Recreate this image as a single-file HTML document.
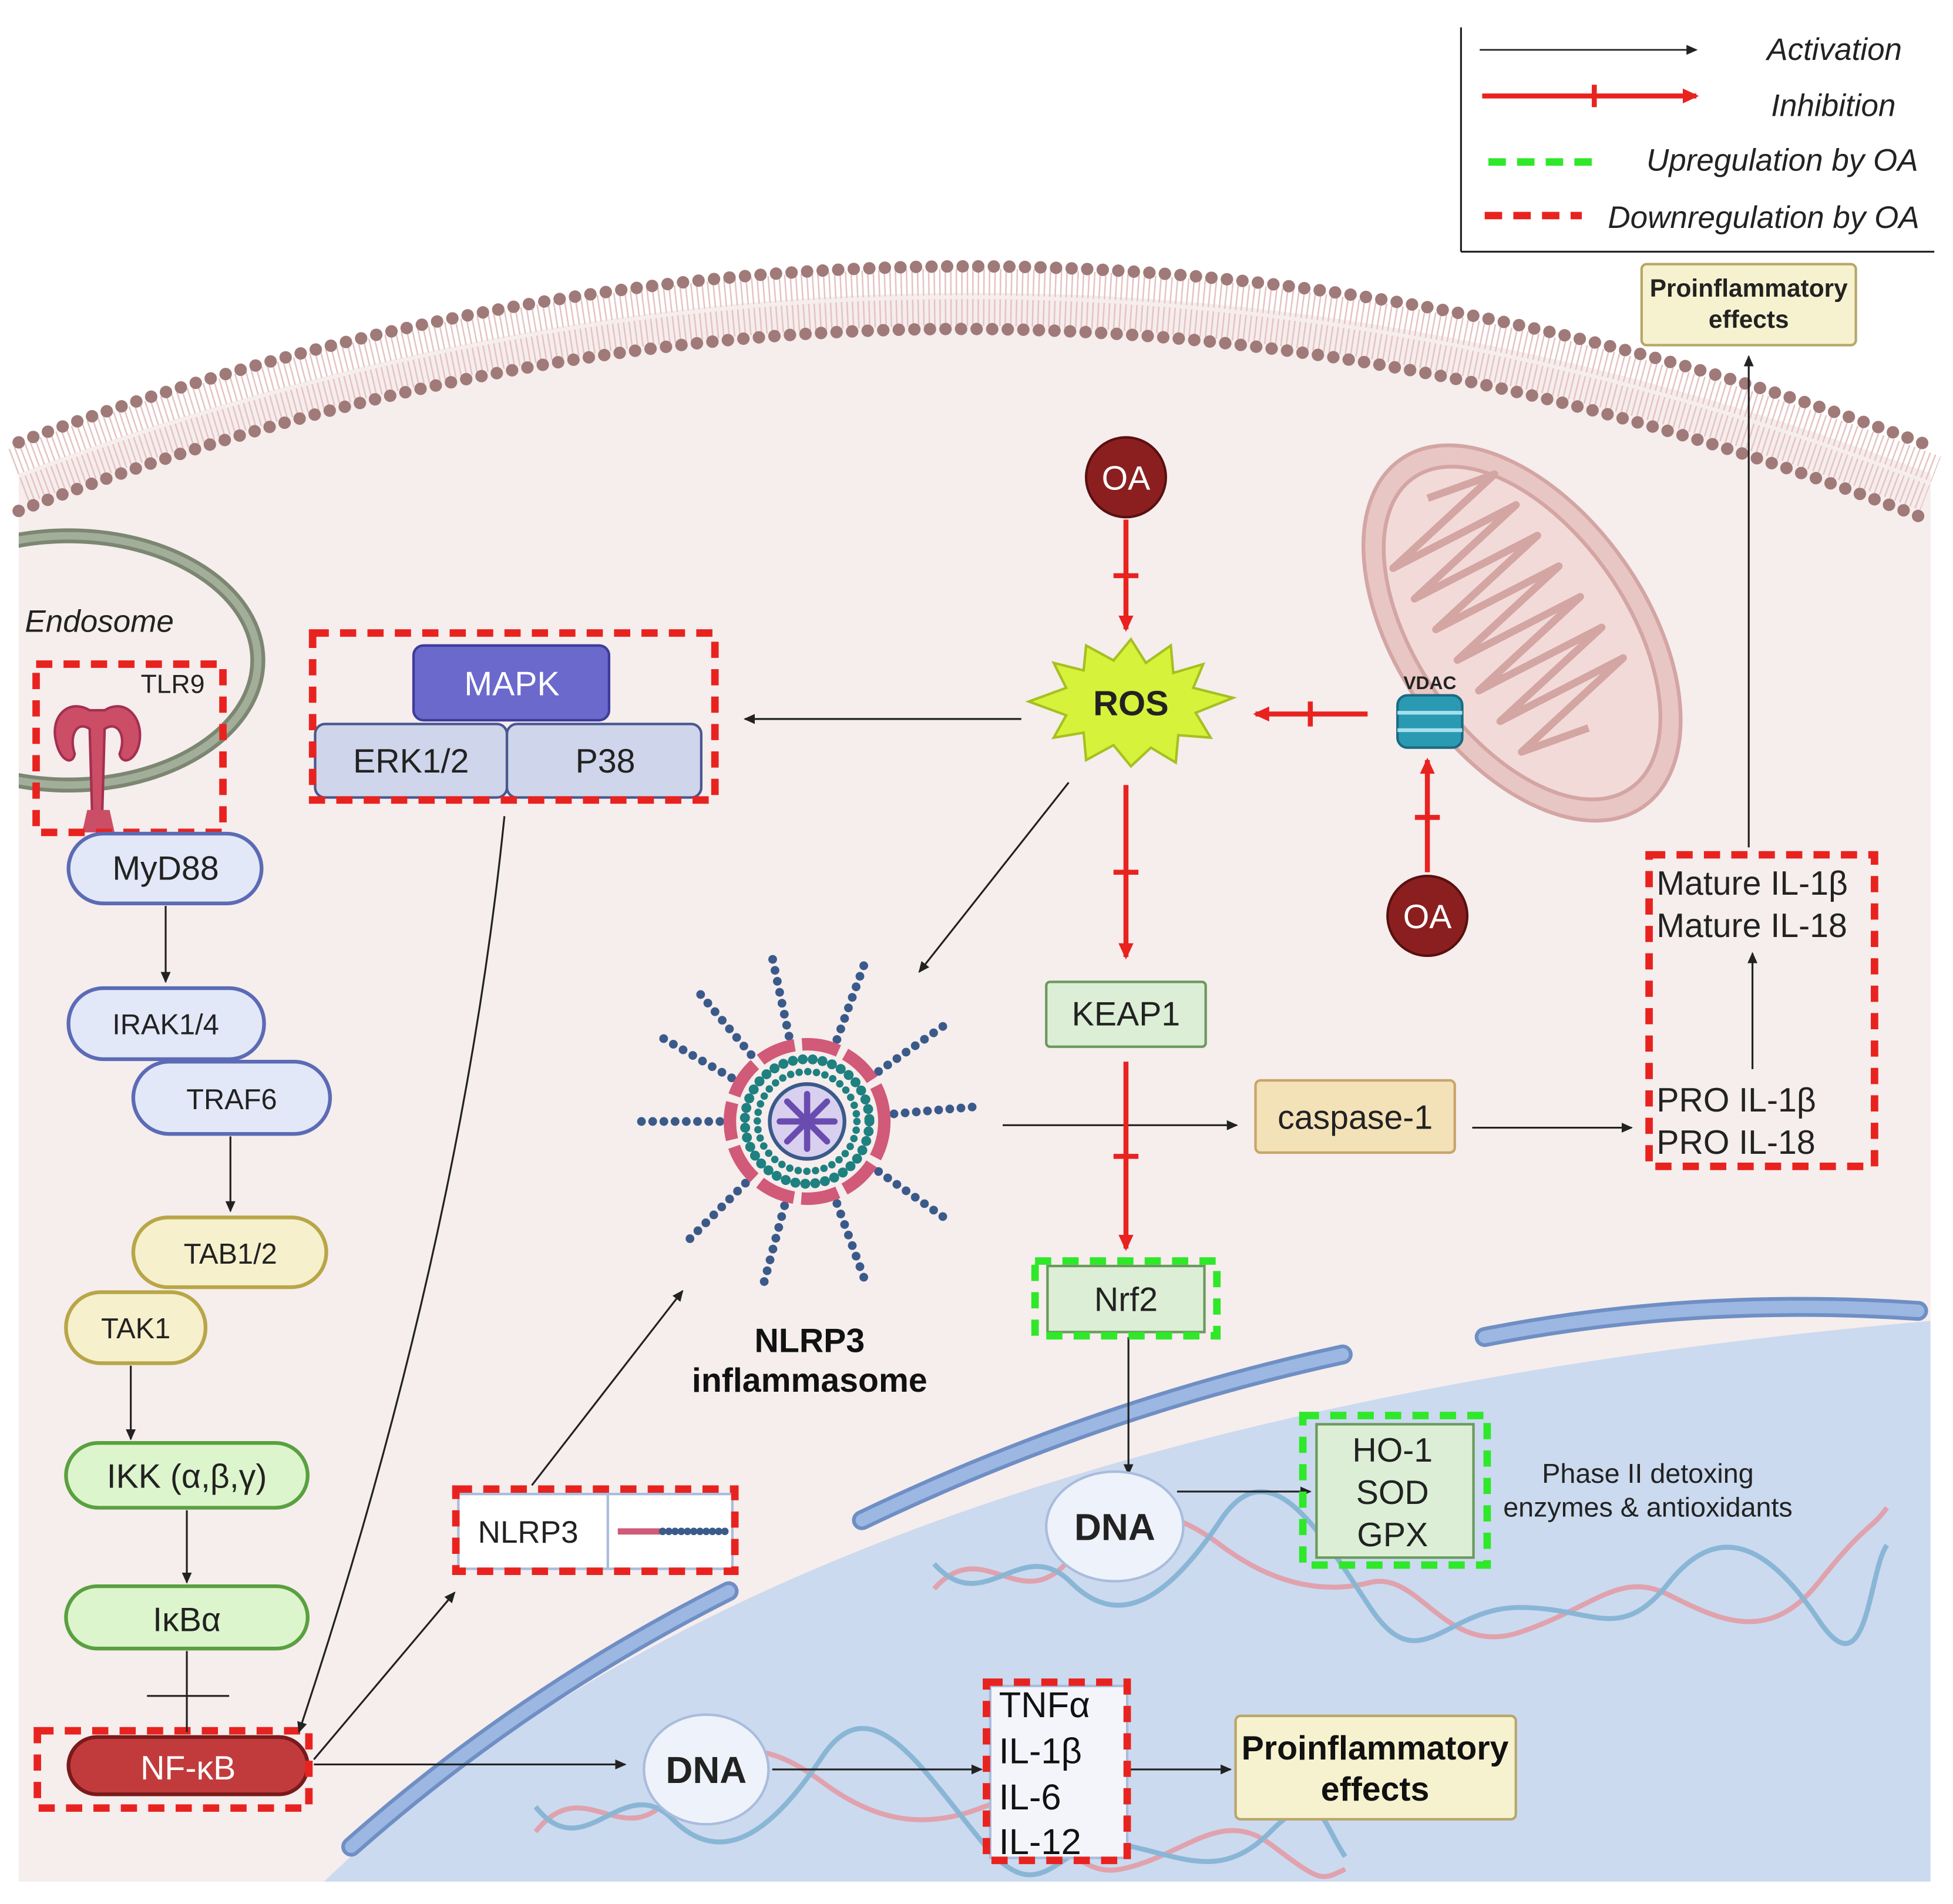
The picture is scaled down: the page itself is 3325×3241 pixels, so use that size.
<!DOCTYPE html>
<html><head><meta charset="utf-8"><style>
html,body{margin:0;padding:0;background:#fff}
svg{display:block}
text{font-family:"Liberation Sans","DejaVu Sans",sans-serif}
</style></head><body>
<svg width="3325" height="3241" viewBox="0 0 1568 1528" preserveAspectRatio="none" xmlns="http://www.w3.org/2000/svg">
<defs>
<marker id="ab" markerWidth="10" markerHeight="10" refX="8" refY="5" orient="auto" markerUnits="userSpaceOnUse"><path d="M0,1 L9,5 L0,9 Z" fill="#222"/></marker>
<marker id="ar" markerWidth="14" markerHeight="14" refX="11" refY="7" orient="auto" markerUnits="userSpaceOnUse"><path d="M0,1 L13,7 L0,13 Z" fill="#e8231f"/></marker>
<clipPath id="cell"><path d="M15,380 Q782,90 1550,380 L1550,1510 L15,1510 Z"/></clipPath>
</defs>
<rect width="1568" height="1528" fill="#fff"/>
<!-- cell -->
<path d="M15,380 Q782,90 1550,380 L1550,1510 L15,1510 Z" fill="#f6eded"/>
<g clip-path="url(#cell)">
<path d="M255,1515 Q640,1140 1550,1060 L1550,1515 Z" fill="#cbdaef"/>
<ellipse cx="55" cy="530" rx="152" ry="100" fill="none" stroke="#7b8771" stroke-width="12"/>
<ellipse cx="55" cy="530" rx="152" ry="100" fill="none" stroke="#a3ae9a" stroke-width="6"/>
</g>
<!-- membrane -->
<path d="M15,382 Q782,92 1550,388" fill="none" stroke="#e6c3c3" stroke-width="46" stroke-dasharray="1.2 3.2"/>
<path d="M15,382 Q782,92 1550,388" fill="none" stroke="#f6eded" stroke-width="3"/>
<path d="M15,355 Q782,71 1550,358" fill="none" stroke="#a07a78" stroke-width="10" stroke-linecap="round" stroke-dasharray="0 12.5"/>
<path d="M15,410 Q782,114 1550,418" fill="none" stroke="#a07a78" stroke-width="10" stroke-linecap="round" stroke-dasharray="0 12.5"/>
<!-- nuclear envelope -->
<g fill="none" stroke-linecap="round">
<path d="M282,1482 Q420,1360 585,1277" stroke="#6f8fc4" stroke-width="16"/>
<path d="M282,1482 Q420,1360 585,1277" stroke="#9bb7e2" stroke-width="10"/>
<path d="M692,1220 Q880,1130 1078,1087" stroke="#6f8fc4" stroke-width="16"/>
<path d="M692,1220 Q880,1130 1078,1087" stroke="#9bb7e2" stroke-width="10"/>
<path d="M1192,1073 Q1360,1040 1540,1052" stroke="#6f8fc4" stroke-width="16"/>
<path d="M1192,1073 Q1360,1040 1540,1052" stroke="#9bb7e2" stroke-width="10"/>
</g>
<!-- DNA helices -->
<g fill="none" stroke-width="4">
<path d="M750,1275 C790,1230 820,1300 860,1250 S940,1210 980,1240 S1060,1280 1100,1270 S1160,1330 1220,1310 S1300,1260 1340,1280 S1420,1320 1460,1270 S1500,1230 1515,1210" stroke="#e0a2ad"/>
<path d="M750,1255 C790,1300 820,1230 860,1270 S940,1280 980,1220 S1060,1230 1100,1290 S1160,1290 1220,1290 S1300,1320 1340,1270 S1420,1240 1460,1300 S1500,1260 1515,1240" stroke="#8ab6d6"/>
<path d="M430,1470 C470,1420 500,1490 540,1440 S620,1400 660,1430 S740,1470 790,1450 S850,1510 900,1500 S980,1450 1020,1480 S1060,1510 1080,1500" stroke="#e0a2ad"/>
<path d="M430,1450 C470,1500 500,1420 540,1460 S620,1470 660,1410 S740,1420 790,1480 S850,1470 900,1480 S980,1510 1020,1470 S1060,1460 1080,1490" stroke="#8ab6d6"/>
</g>
<!-- Legend -->
<g>
<line x1="1173" y1="22" x2="1173" y2="202" stroke="#222" stroke-width="1.5"/>
<line x1="1173" y1="202" x2="1553" y2="202" stroke="#222" stroke-width="1.5"/>
<line x1="1188" y1="40" x2="1362" y2="40" stroke="#222" stroke-width="1.3" marker-end="url(#ab)"/>
<line x1="1190" y1="77" x2="1362" y2="77" stroke="#e8231f" stroke-width="4" marker-end="url(#ar)"/>
<line x1="1280" y1="68" x2="1280" y2="86" stroke="#e8231f" stroke-width="4"/>
<line x1="1195" y1="130" x2="1282" y2="130" stroke="#2fe82a" stroke-width="6" stroke-dasharray="14 9"/>
<line x1="1192" y1="173" x2="1270" y2="173" stroke="#e8231f" stroke-width="6" stroke-dasharray="14 9"/>
<g font-style="italic" font-size="25" fill="#222" text-anchor="end">
<text x="1527" y="48">Activation</text>
<text x="1522" y="93">Inhibition</text>
<text x="1540" y="137">Upregulation by OA</text>
<text x="1541" y="183">Downregulation by OA</text>
</g>
</g>
<text x="20" y="507" font-size="25" font-style="italic" fill="#222">Endosome</text>
<!-- TLR9 -->
<g>
<path d="M72,570 C55,560 40,575 45,595 C48,610 58,615 60,605 C55,590 62,578 72,585 L74,655 L82,655 L84,585 C94,578 102,590 96,605 C98,615 110,610 112,595 C115,575 100,560 84,570 Z" fill="#cc4d66" stroke="#a33050" stroke-width="2"/>
<path d="M70,650 L88,650 L92,668 L66,668 Z" fill="#cc4d66"/>
<text x="113" y="556" font-size="21" fill="#222">TLR9</text>
<rect x="29" y="533" width="150" height="135" fill="none" stroke="#e8231f" stroke-width="6" stroke-dasharray="13 9"/>
</g>
<g font-size="25" text-anchor="middle" fill="#222">
<rect x="55" y="669" width="155" height="56" rx="28" fill="#e3e8f8" stroke="#5b6bb5" stroke-width="3"/>
<text x="133" y="706" font-size="27">MyD88</text>
<rect x="55" y="793" width="157" height="57" rx="28" fill="#e3e8f8" stroke="#5b6bb5" stroke-width="3"/>
<text x="133" y="830" font-size="23">IRAK1/4</text>
<rect x="107" y="852" width="158" height="58" rx="29" fill="#e3e8f8" stroke="#5b6bb5" stroke-width="3"/>
<text x="186" y="890" font-size="23">TRAF6</text>
<rect x="107" y="977" width="155" height="56" rx="28" fill="#f6f0cc" stroke="#b8a648" stroke-width="3"/>
<text x="185" y="1014" font-size="23">TAB1/2</text>
<rect x="53" y="1037" width="112" height="57" rx="28" fill="#f6f0cc" stroke="#b8a648" stroke-width="3"/>
<text x="109" y="1074" font-size="23">TAK1</text>
<rect x="53" y="1158" width="194" height="52" rx="26" fill="#ddf5cd" stroke="#5aa040" stroke-width="3"/>
<text x="150" y="1194" font-size="27">IKK (α,β,γ)</text>
<rect x="53" y="1273" width="194" height="50" rx="25" fill="#ddf5cd" stroke="#5aa040" stroke-width="3"/>
<text x="150" y="1309" font-size="27">IκBα</text>
<rect x="55" y="1394" width="192" height="46" rx="23" fill="#c23b3c" stroke="#7a1a1a" stroke-width="3"/>
<text x="151" y="1428" font-size="27" fill="#fff">NF-κB</text>
</g>
<rect x="30" y="1389" width="218" height="62" fill="none" stroke="#e8231f" stroke-width="6" stroke-dasharray="13 9"/>
<g stroke="#222" stroke-width="1.5" fill="none">
<line x1="133" y1="727" x2="133" y2="788" marker-end="url(#ab)"/>
<line x1="185" y1="912" x2="185" y2="972" marker-end="url(#ab)"/>
<line x1="105" y1="1096" x2="105" y2="1155" marker-end="url(#ab)"/>
<line x1="150" y1="1212" x2="150" y2="1270" marker-end="url(#ab)"/>
<line x1="150" y1="1325" x2="150" y2="1390"/>
<line x1="118" y1="1361" x2="184" y2="1361"/>
<path d="M405,655 Q370,1000 240,1390" marker-end="url(#ab)"/>
<line x1="252" y1="1412" x2="365" y2="1278" marker-end="url(#ab)"/>
<line x1="252" y1="1416" x2="502" y2="1416" marker-end="url(#ab)"/>
<line x1="427" y1="1192" x2="548" y2="1036" marker-end="url(#ab)"/>
<line x1="820" y1="577" x2="598" y2="577" marker-end="url(#ab)"/>
<line x1="858" y1="628" x2="738" y2="780" marker-end="url(#ab)"/>
<line x1="805" y1="903" x2="993" y2="903" marker-end="url(#ab)"/>
<line x1="1182" y1="905" x2="1310" y2="905" marker-end="url(#ab)"/>
<line x1="1407" y1="858" x2="1407" y2="765" marker-end="url(#ab)"/>
<line x1="1404" y1="680" x2="1404" y2="286" marker-end="url(#ab)"/>
<line x1="906" y1="1073" x2="906" y2="1183" marker-end="url(#ab)"/>
<line x1="945" y1="1197" x2="1052" y2="1197" marker-end="url(#ab)"/>
<line x1="620" y1="1420" x2="788" y2="1420" marker-end="url(#ab)"/>
<line x1="907" y1="1420" x2="988" y2="1420" marker-end="url(#ab)"/>
</g>
<rect x="253" y="581" width="154" height="59" rx="8" fill="#cfd5ea" stroke="#4a5690" stroke-width="2"/>
<rect x="407" y="581" width="156" height="59" rx="8" fill="#cfd5ea" stroke="#4a5690" stroke-width="2"/>
<rect x="332" y="518" width="157" height="60" rx="8" fill="#6b69cc" stroke="#3e3c99" stroke-width="2"/>
<g font-size="27" text-anchor="middle">
<text x="411" y="558" fill="#fff">MAPK</text>
<text x="330" y="620" fill="#222">ERK1/2</text>
<text x="486" y="620" fill="#222">P38</text>
</g>
<rect x="251" y="508" width="323" height="134" fill="none" stroke="#e8231f" stroke-width="6" stroke-dasharray="13 9"/>
<!-- mitochondrion -->
<g transform="rotate(55 1222 508)">
<ellipse cx="1222" cy="508" rx="170" ry="100" fill="#e8c6c4" stroke="#d3a5a3" stroke-width="3"/>
<ellipse cx="1222" cy="508" rx="152" ry="84" fill="#f2dad8" stroke="#d3a5a3" stroke-width="3"/>
<path d="M1090,508 l15,-55 l15,110 l15,-110 l15,110 l15,-110 l15,110 l15,-110 l15,110 l15,-110 l15,110 l15,-110 l15,110 l15,-110 l15,110 l15,-55" fill="none" stroke="#d3a5a3" stroke-width="6" stroke-linejoin="round"/>
</g>
<rect x="1122" y="558" width="52" height="42" rx="8" fill="#2a9ab3" stroke="#1a6a80" stroke-width="2"/>
<line x1="1122" y1="572" x2="1174" y2="572" stroke="#a6e0ec" stroke-width="3"/>
<line x1="1122" y1="586" x2="1174" y2="586" stroke="#a6e0ec" stroke-width="3"/>
<text x="1148" y="553" font-size="15" font-weight="bold" text-anchor="middle" fill="#222">VDAC</text>
<path d="M908,513 L920,532 L940,518 L942,540 L966,533 L958,552 L990,560 L960,572 L972,592 L946,590 L944,612 L924,600 L908,615 L894,598 L872,610 L870,588 L846,592 L856,574 L826,563 L856,552 L846,532 L870,538 L872,518 L894,530 Z" fill="#d6f23a" stroke="#a6c020" stroke-width="2"/>
<text x="908" y="574" font-size="28" font-weight="bold" text-anchor="middle" fill="#222">ROS</text>
<circle cx="904" cy="383" r="32" fill="#8b1f1f" stroke="#5a1010" stroke-width="2"/>
<text x="904" y="393" font-size="27" text-anchor="middle" fill="#fff">OA</text>
<circle cx="1146" cy="735" r="32" fill="#8b1f1f" stroke="#5a1010" stroke-width="2"/>
<text x="1146" y="745" font-size="27" text-anchor="middle" fill="#fff">OA</text>
<g stroke="#e8231f" stroke-width="4" fill="none">
<line x1="904" y1="417" x2="904" y2="505" marker-end="url(#ar)"/>
<line x1="894" y1="462" x2="914" y2="462"/>
<line x1="1098" y1="573" x2="1008" y2="573" marker-end="url(#ar)"/>
<line x1="1052" y1="563" x2="1052" y2="583"/>
<line x1="1146" y1="700" x2="1146" y2="610" marker-end="url(#ar)"/>
<line x1="1136" y1="656" x2="1156" y2="656"/>
<line x1="904" y1="630" x2="904" y2="768" marker-end="url(#ar)"/>
<line x1="894" y1="700" x2="914" y2="700"/>
<line x1="904" y1="852" x2="904" y2="1002" marker-end="url(#ar)"/>
<line x1="894" y1="928" x2="914" y2="928"/>
</g>
<rect x="840" y="788" width="128" height="52" rx="3" fill="#dcefd6" stroke="#6a9a5c" stroke-width="2"/>
<text x="904" y="823" font-size="27" text-anchor="middle" fill="#222">KEAP1</text>
<rect x="1008" y="867" width="160" height="58" rx="4" fill="#f3e1b8" stroke="#c8a56a" stroke-width="2"/>
<text x="1088" y="906" font-size="27" text-anchor="middle" fill="#222">caspase-1</text>
<g font-size="27" fill="#222">
<text x="1330" y="718">Mature IL-1β</text>
<text x="1330" y="752">Mature IL-18</text>
<text x="1330" y="892">PRO IL-1β</text>
<text x="1330" y="926">PRO IL-18</text>
</g>
<rect x="1324" y="686" width="181" height="250" fill="none" stroke="#e8231f" stroke-width="6" stroke-dasharray="13 9"/>
<rect x="1318" y="212" width="172" height="65" rx="4" fill="#f6f2cf" stroke="#b8a66a" stroke-width="2"/>
<text x="1404" y="238" font-size="20" font-weight="bold" text-anchor="middle" fill="#222">Proinflammatory</text>
<text x="1404" y="263" font-size="20" font-weight="bold" text-anchor="middle" fill="#222">effects</text>
<rect x="841" y="1016" width="126" height="53" fill="#dcefd6" stroke="#6a9a5c" stroke-width="2"/>
<text x="904" y="1052" font-size="27" text-anchor="middle" fill="#222">Nrf2</text>
<rect x="831" y="1012" width="146" height="60" fill="none" stroke="#2fe82a" stroke-width="6" stroke-dasharray="13 9"/>
<ellipse cx="895" cy="1225" rx="55" ry="44" fill="#eef2fa" stroke="#a9bcdc" stroke-width="2"/>
<text x="895" y="1236" font-size="30" font-weight="bold" text-anchor="middle" fill="#222">DNA</text>
<ellipse cx="567" cy="1420" rx="50" ry="44" fill="#eef2fa" stroke="#a9bcdc" stroke-width="2"/>
<text x="567" y="1431" font-size="30" font-weight="bold" text-anchor="middle" fill="#222">DNA</text>
<rect x="1057" y="1143" width="126" height="107" fill="#dcefd6" stroke="#6a9a5c" stroke-width="2"/>
<g font-size="27" text-anchor="middle" fill="#222">
<text x="1118" y="1173">HO-1</text>
<text x="1118" y="1207">SOD</text>
<text x="1118" y="1241">GPX</text>
</g>
<rect x="1046" y="1136" width="148" height="120" fill="none" stroke="#2fe82a" stroke-width="6" stroke-dasharray="13 9"/>
<text x="1323" y="1190" font-size="22" text-anchor="middle" fill="#222">Phase II detoxing</text>
<text x="1323" y="1217" font-size="22" text-anchor="middle" fill="#222">enzymes &amp; antioxidants</text>
<g transform="translate(648 900)">
<g stroke="#3a5a8a" stroke-width="7" stroke-linecap="round" stroke-dasharray="0 9">
<line x1="0" y1="-70" x2="0" y2="-140" transform="rotate(-12)"/>
<line x1="0" y1="-70" x2="0" y2="-140" transform="rotate(20)"/>
<line x1="0" y1="-70" x2="0" y2="-140" transform="rotate(-40)"/>
<line x1="0" y1="-70" x2="0" y2="-140" transform="rotate(55)"/>
<line x1="0" y1="-70" x2="0" y2="-140" transform="rotate(85)"/>
<line x1="0" y1="-70" x2="0" y2="-140" transform="rotate(125)"/>
<line x1="0" y1="-70" x2="0" y2="-140" transform="rotate(160)"/>
<line x1="0" y1="-70" x2="0" y2="-140" transform="rotate(195)"/>
<line x1="0" y1="-70" x2="0" y2="-140" transform="rotate(225)"/>
<line x1="0" y1="-70" x2="0" y2="-140" transform="rotate(270)"/>
<line x1="0" y1="-70" x2="0" y2="-140" transform="rotate(300)"/>
</g>
<circle r="62" fill="none" stroke="#d05a78" stroke-width="10" stroke-dasharray="30 6"/>
<circle r="50" fill="none" stroke="#1f8080" stroke-width="8" stroke-dasharray="0 8" stroke-linecap="round"/>
<circle r="40" fill="#f6eded" stroke="#1f8080" stroke-width="6" stroke-dasharray="0 7" stroke-linecap="round"/>
<circle r="30" fill="#d8d0ee" stroke="#3a5a8a" stroke-width="3"/>
<g stroke="#6a4cb0" stroke-width="5" stroke-linecap="round">
<line x1="-22" y1="0" x2="22" y2="0"/><line x1="0" y1="-22" x2="0" y2="22"/>
<line x1="-16" y1="-16" x2="16" y2="16"/><line x1="-16" y1="16" x2="16" y2="-16"/>
</g>
</g>
<text x="650" y="1085" font-size="27" font-weight="bold" text-anchor="middle" fill="#111">NLRP3</text>
<text x="650" y="1117" font-size="27" font-weight="bold" text-anchor="middle" fill="#111">inflammasome</text>
<rect x="368" y="1199" width="220" height="60" fill="#fff" stroke="#a9bcdc" stroke-width="2"/>
<line x1="488" y1="1199" x2="488" y2="1259" stroke="#a9bcdc" stroke-width="2"/>
<text x="424" y="1238" font-size="25" text-anchor="middle" fill="#222">NLRP3</text>
<line x1="496" y1="1229" x2="530" y2="1229" stroke="#d05a78" stroke-width="5"/>
<line x1="532" y1="1229" x2="584" y2="1229" stroke="#3a5a8a" stroke-width="6" stroke-dasharray="0 5" stroke-linecap="round"/>
<rect x="366" y="1195" width="224" height="66" fill="none" stroke="#e8231f" stroke-width="6" stroke-dasharray="13 9"/>
<rect x="795" y="1353" width="110" height="138" fill="#f4f5fb" stroke="#a9bcdc" stroke-width="2"/>
<g font-size="29" fill="#111">
<text x="802" y="1378">TNFα</text>
<text x="802" y="1415">IL-1β</text>
<text x="802" y="1452">IL-6</text>
<text x="802" y="1488">IL-12</text>
</g>
<rect x="792" y="1350" width="113" height="143" fill="none" stroke="#e8231f" stroke-width="6" stroke-dasharray="13 9"/>
<rect x="992" y="1377" width="225" height="83" rx="4" fill="#f6f2cf" stroke="#b8a66a" stroke-width="2"/>
<text x="1104" y="1412" font-size="27" font-weight="bold" text-anchor="middle" fill="#111">Proinflammatory</text>
<text x="1104" y="1445" font-size="27" font-weight="bold" text-anchor="middle" fill="#111">effects</text>
</svg>
</body></html>
